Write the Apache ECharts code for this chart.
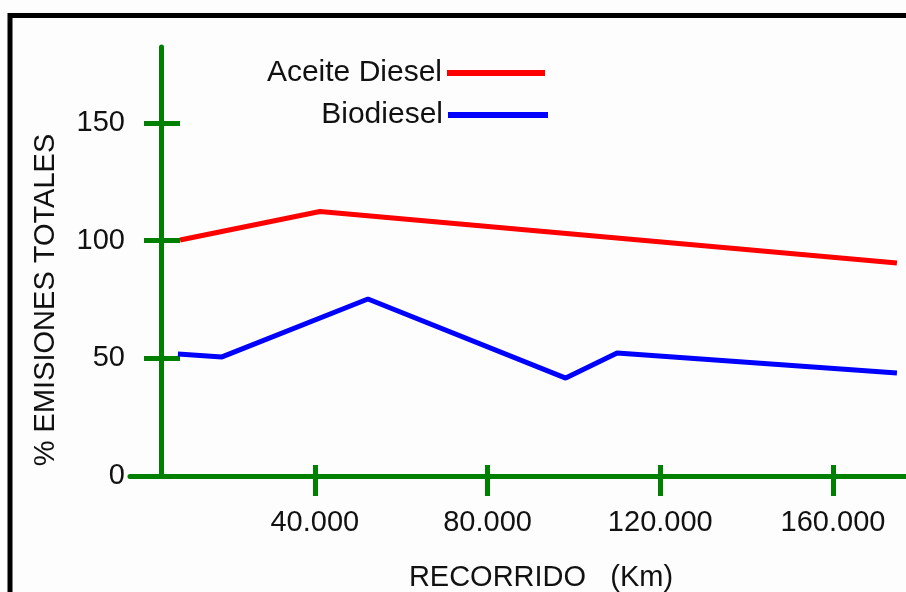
<!DOCTYPE html>
<html>
<head>
<meta charset="utf-8">
<script src="https://cdn.jsdelivr.net/npm/echarts@6/dist/echarts.min.js"></script>
<style>
html,body{margin:0;padding:0;background:#fdfdfd;}
#c{width:906px;height:592px;}
</style>
</head>
<body>
<div id="c"></div>
<script>
const seriesNames = ['Aceite Diesel', 'Biodiesel'];
const xTicks = [40000, 80000, 120000, 160000];
const xTickLabels = ['40.000', '80.000', '120.000', '160.000'];
const yTicks = [0, 50, 100, 150];
const dieselKm = [8800, 41200, 174800];
const dieselPct = [100.3, 112.4, 90.5];
const bioKm = [8300, 18500, 52300, 98100, 110000, 174800];
const bioPct = [51.8, 50.6, 75.2, 41.6, 52.3, 43.8];

const GREEN = '#008000';
const FONT = 'Liberation Sans, Arial, sans-serif';
const chart = echarts.init(document.getElementById('c'));

function pairs(xs, ys) { return xs.map((x, i) => [x, ys[i]]); }

const xBase = {
  type: 'value', min: -2800, max: 176900, gridIndex: 0, position: 'bottom',
  splitLine: { show: false }
};
const yBase = {
  type: 'value', min: 0, max: 182.3, gridIndex: 0, position: 'left', offset: -31,
  splitLine: { show: false }
};

chart.setOption({
  backgroundColor: '#fdfdfd',
  animation: false,
  grid: { left: 130, right: 0, top: 47, bottom: 116, containLabel: false },
  xAxis: [
    Object.assign({}, xBase, {
      axisLine: { show: true, onZero: false, lineStyle: { color: GREEN, width: 5 } },
      axisTick: { show: true, customValues: xTicks, length: 20, lineStyle: { color: GREEN, width: 5 } },
      axisLabel: {
        show: true, customValues: xTicks, margin: 32,
        formatter: v => xTickLabels[xTicks.indexOf(v)] || '',
        color: '#111', fontSize: 29, fontFamily: FONT
      }
    }),
    Object.assign({}, xBase, {
      axisLine: { show: false, onZero: false },
      axisTick: { show: true, inside: true, customValues: xTicks, length: 11, lineStyle: { color: GREEN, width: 5 } },
      axisLabel: { show: false }
    })
  ],
  yAxis: [
    Object.assign({}, yBase, {
      axisLine: { show: true, onZero: false, lineStyle: { color: GREEN, width: 5 } },
      axisTick: { show: true, customValues: yTicks, length: 17, lineStyle: { color: GREEN, width: 5 } },
      axisLabel: {
        show: true, customValues: yTicks, margin: 36,
        color: '#111', fontSize: 29, fontFamily: FONT
      }
    }),
    Object.assign({}, yBase, {
      axisLine: { show: false, onZero: false },
      axisTick: { show: true, inside: true, customValues: yTicks, length: 19, lineStyle: { color: GREEN, width: 5 } },
      axisLabel: { show: false }
    })
  ],
  legend: [
    {
      data: [seriesNames[0]], right: 361, top: 58, padding: 0, align: 'right',
      icon: 'rect', itemWidth: 98, itemHeight: 6, itemGap: 0,
      textStyle: { fontSize: 30, fontFamily: FONT, color: '#111', lineHeight: 30 }
    },
    {
      data: [seriesNames[1]], right: 358, top: 100, padding: 0, align: 'right',
      icon: 'rect', itemWidth: 100, itemHeight: 6, itemGap: 0,
      textStyle: { fontSize: 30, fontFamily: FONT, color: '#111', lineHeight: 30 }
    }
  ],
  series: [
    {
      name: seriesNames[0], type: 'line', xAxisIndex: 0, yAxisIndex: 0,
      data: pairs(dieselKm, dieselPct), showSymbol: false, symbol: 'none',
      lineStyle: { color: '#ff0000', width: 5 }, itemStyle: { color: '#ff0000' }, z: 3
    },
    {
      name: seriesNames[1], type: 'line', xAxisIndex: 0, yAxisIndex: 0,
      data: pairs(bioKm, bioPct), showSymbol: false, symbol: 'none',
      lineStyle: { color: '#0000ff', width: 5 }, itemStyle: { color: '#0000ff' }, z: 3
    }
  ],
  graphic: [
    {
      type: 'rect', shape: { x: 10, y: 15.5, width: 2000, height: 2000 },
      style: { fill: 'none', stroke: '#000', lineWidth: 5 }, silent: true, z: 10
    },
    {
      type: 'text', x: 541, y: 578,
      style: { text: 'RECORRIDO   (Km)', fontSize: 29, fontFamily: FONT, fill: '#111', align: 'center', verticalAlign: 'middle' }
    },
    {
      type: 'text', x: 46, y: 300, rotation: Math.PI / 2,
      style: { text: '% EMISIONES TOTALES', fontSize: 29, fontFamily: FONT, fill: '#111', align: 'center', verticalAlign: 'middle' }
    }
  ]
});
</script>
</body>
</html>
